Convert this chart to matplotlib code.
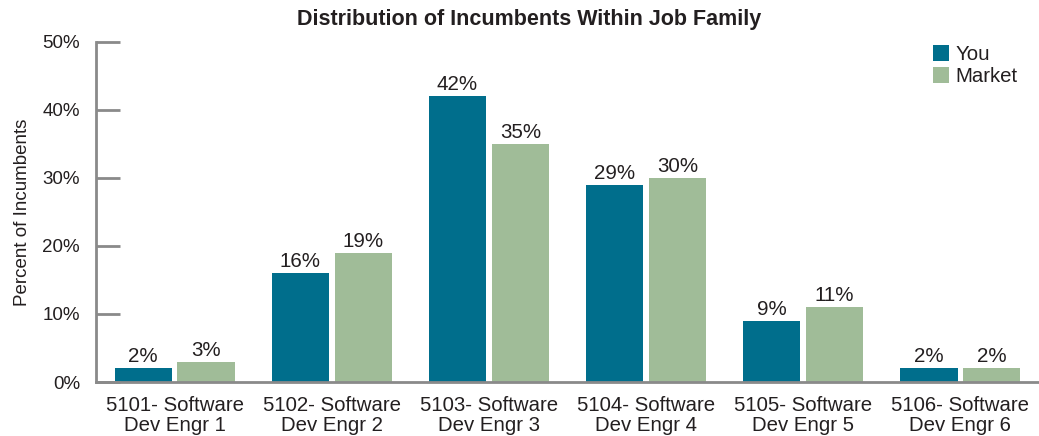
import matplotlib
matplotlib.use("Agg")
import matplotlib.pyplot as plt
import numpy as np

categories = ["5101- Software\nDev Engr 1", "5102- Software\nDev Engr 2", "5103- Software\nDev Engr 3",
              "5104- Software\nDev Engr 4", "5105- Software\nDev Engr 5", "5106- Software\nDev Engr 6"]
you = [2, 16, 42, 29, 9, 2]
market = [3, 19, 35, 30, 11, 2]
yticks = [0, 10, 20, 30, 40, 50]

plt.rcParams['font.family'] = ['Liberation Sans', 'DejaVu Sans']
txt = '#231F20'
gray = '#8A8A8A'

fig = plt.figure(figsize=(10.39, 4.36), dpi=100)
ax = fig.add_axes([96/1039, 1-382/436, 1-96/1039, 340/436])

x = np.arange(len(categories))
w = 0.363
b1 = ax.bar(x - 0.2, you, w, color='#006E8C', label='You')
b2 = ax.bar(x + 0.2, market, w, color='#A0BC98', label='Market')
for bars, vals in ((b1, you), (b2, market)):
    for r, v in zip(bars, vals):
        ax.annotate(f"{v}%", (r.get_x() + r.get_width()/2, v), xytext=(0, 1.5),
                    textcoords='offset points', ha='center', va='bottom', fontsize=14.8, color=txt)

ax.set_xlim(-0.5, 5.5)
ax.set_ylim(0, 50)
ax.set_yticks(yticks)
ax.set_yticklabels([f"{t}%" for t in yticks], fontsize=13.5, color=txt)
ax.set_xticks(x)
ax.set_xticklabels(categories, fontsize=14.7, color=txt, linespacing=1.05)
ax.tick_params(axis='x', length=0, pad=10)
ax.tick_params(axis='y', direction='in', length=17, width=2, color=gray, pad=11.5)
for s in ('top', 'right'):
    ax.spines[s].set_visible(False)
for s in ('left', 'bottom'):
    ax.spines[s].set_color(gray)
    ax.spines[s].set_linewidth(2)
ax.set_ylabel("Percent of Incumbents", fontsize=13.5, color=txt, labelpad=8)

fig.text(529/1039, 1-19/436, "Distribution of Incumbents Within Job Family", ha='center', va='center',
         fontsize=15.5, fontweight='bold', color=txt)

leg = ax.legend(loc='upper left', bbox_to_anchor=(933/1039, 1-45/436), bbox_transform=fig.transFigure,
                frameon=False, fontsize=14.7, handlelength=0.8, handleheight=0.8, handletextpad=0.3,
                labelspacing=0.15, borderaxespad=0, borderpad=0)
for t in leg.get_texts():
    t.set_color(txt)

fig.savefig("out.png", dpi=100)
